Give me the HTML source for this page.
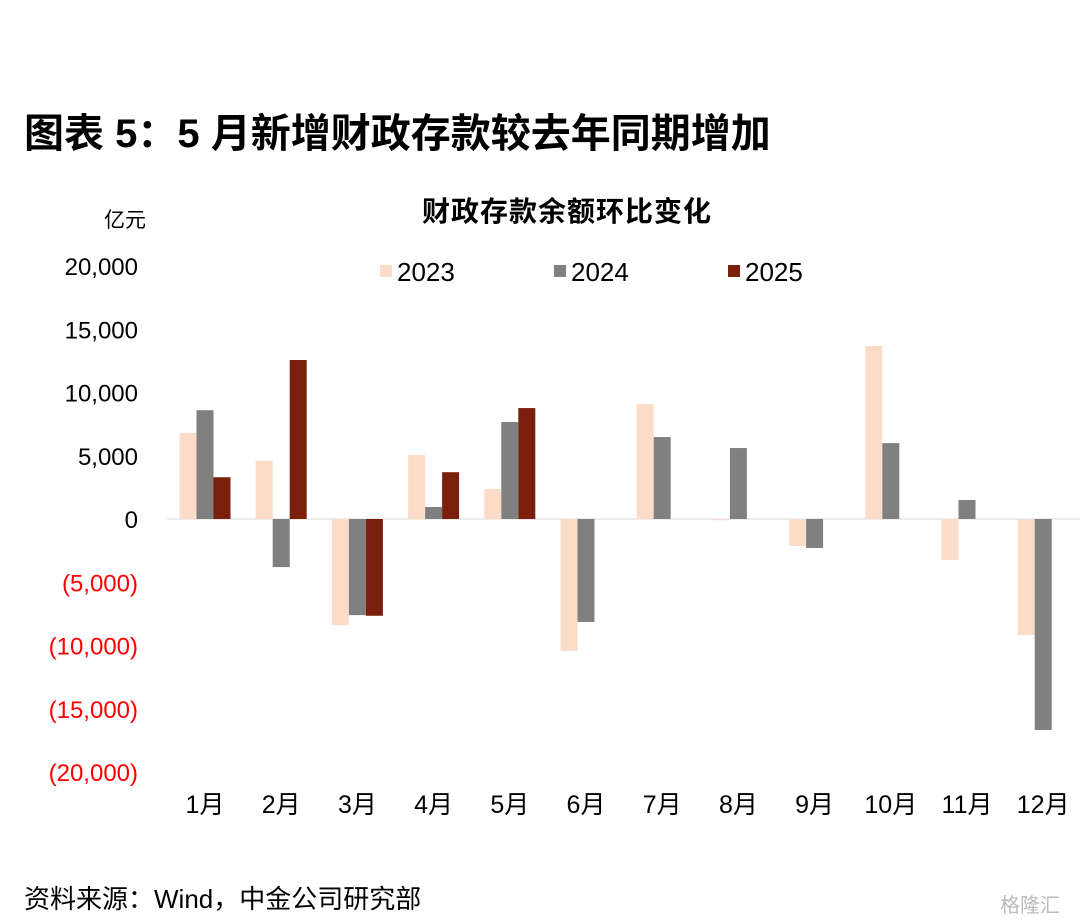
<!DOCTYPE html>
<html><head><meta charset="utf-8">
<style>
body{margin:0;background:#fff;}
#wrap{position:relative;width:1080px;height:924px;overflow:hidden;background:#fff;font-family:"Liberation Sans","Noto Sans CJK SC",sans-serif;}
</style></head>
<body>
<div id="wrap">
<svg id="svg" width="1080" height="924" xmlns="http://www.w3.org/2000/svg">
<text x="24" y="147" font-size="40" font-weight="bold" fill="#000" font-family="Liberation Sans, Noto Sans CJK SC, sans-serif">图表 5：5 月新增财政存款较去年同期增加</text>
<text x="567" y="221" font-size="28" font-weight="bold" letter-spacing="1" text-anchor="middle" fill="#000" font-family="Liberation Sans, Noto Sans CJK SC, sans-serif">财政存款余额环比变化</text>
<text x="104" y="227" font-size="21" fill="#000" font-family="Liberation Sans, Noto Sans CJK SC, sans-serif">亿元</text>
<text x="24" y="908" font-size="26" fill="#000" font-family="Liberation Sans, Noto Sans CJK SC, sans-serif">资料来源：Wind，中金公司研究部</text>
<text x="1000" y="912" font-size="20" fill="#bbb" font-family="Liberation Sans, Noto Sans CJK SC, sans-serif">格隆汇</text>
<g id="plot"></g>
</svg>
</div>
<script>
const categories=["1月","2月","3月","4月","5月","6月","7月","8月","9月","10月","11月","12月"];
const s2023=[6800,4600,-8400,5060,2370,-10430,9090,-100,-2130,13680,-3240,-9170];
const s2024=[8600,-3800,-7600,950,7670,-8140,6480,5610,-2290,6000,1500,-16680];
const s2025=[3300,12570,-7650,3700,8770,null,null,null,null,null,null,null];
const yTicks=[20000,15000,10000,5000,0,-5000,-10000,-15000,-20000];
const yTickLabels=["20,000","15,000","10,000","5,000","0","(5,000)","(10,000)","(15,000)","(20,000)"];
const seriesNames=["2023","2024","2025"];
const colors=["#fbdcc8","#808080","#7a1f0c"];
const NS="http://www.w3.org/2000/svg";
const g=document.getElementById('plot');
const y0=519,pxPer=253/20000;
function yScale(v){return y0-v*pxPer;}
function xCenter(i){return 205+i*76.2;}
const bw=17;
function mk(tag,attrs){const e=document.createElementNS(NS,tag);for(const k in attrs)e.setAttribute(k,attrs[k]);g.appendChild(e);return e;}
yTicks.forEach((t,i)=>{
  const e=mk('text',{x:138,y:yScale(t)+9,'font-size':24,'text-anchor':'end',fill:t<0?'#ff0000':'#000','font-family':'Liberation Sans, sans-serif'});
  e.textContent=yTickLabels[i];
  
  
});
const zl=mk('line',{x1:167,x2:1080,y1:y0,y2:y0,stroke:'#d9d9d9','stroke-width':1});


[s2023,s2024,s2025].forEach((s,si)=>{
  s.forEach((v,i)=>{
    if(v===null)return;
    const x=xCenter(i)+(si-1)*bw-bw/2;
    const top=Math.min(yScale(v),y0),h=Math.abs(yScale(v)-y0);
    const r=mk('rect',{x:x,y:top,width:bw,height:Math.max(h,0.5),fill:colors[si]});
    
    
  });
});
categories.forEach((c,i)=>{
  const e=mk('text',{x:xCenter(i),y:813,'font-size':25,'text-anchor':'middle',fill:'#000','font-family':'Liberation Sans, Noto Sans CJK SC, sans-serif'});
  e.textContent=c;
  
  
});
const legX=[380,554,728];
seriesNames.forEach((n,i)=>{
  const r=mk('rect',{x:legX[i],y:265,width:12,height:12,fill:colors[i]});
  
  
  const t=mk('text',{x:legX[i]+17,y:281,'font-size':26,fill:'#000','font-family':'Liberation Sans, sans-serif'});
  t.textContent=n;
  
  
});
</script>
</body></html>
